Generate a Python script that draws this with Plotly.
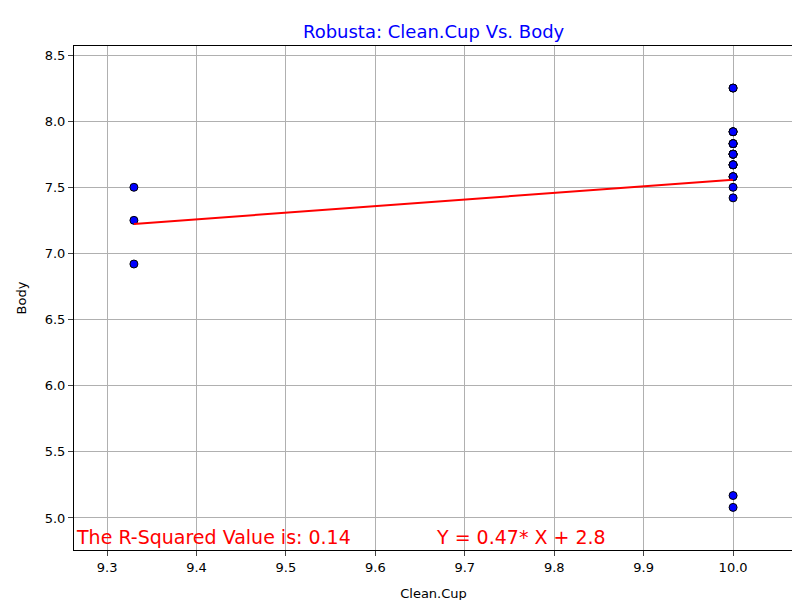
import numpy as np
import plotly.graph_objects as go

# Datos (Robusta)
clean_cup = [9.33, 9.33, 9.33] + [10.0] * 25
body = [7.5, 7.25, 6.92,
        8.25, 7.92, 7.83, 7.75, 7.67, 7.58, 7.5, 7.42, 5.17, 5.08,
        7.83, 7.83, 7.83, 7.75, 7.75, 7.75, 7.75, 7.67, 7.67, 7.67,
        7.92, 7.92, 7.58, 7.58, 8.25]

x = np.array(clean_cup)
y = np.array(body)
slope, intercept = np.polyfit(x, y, 1)
line_y = slope * x + intercept

fig = go.Figure()
fig.add_trace(go.Scatter(x=clean_cup, y=body, mode='markers',
                         marker=dict(color='blue', size=8, line=dict(color='black', width=1))))
fig.add_trace(go.Scatter(x=clean_cup, y=line_y, mode='lines', line=dict(color='red', width=2)))

fig.add_annotation(x=9.263, y=4.86, text='The R-Squared Value is: 0.14', showarrow=False,
                   xanchor='left', font=dict(color='red', size=19))
fig.add_annotation(x=9.665, y=4.86, text='Y = 0.47* X + 2.8', showarrow=False,
                   xanchor='left', font=dict(color='red', size=19))

axis = dict(showline=True, linecolor='black', mirror=True, ticks='outside',
            showgrid=True, gridcolor='#b0b0b0', zeroline=False, automargin=False,
            tickfont=dict(size=13, color='black'))
fig.update_xaxes(axis, range=[9.263, 10.067], dtick=0.1, tickformat='.1f',
                 title=dict(text='Clean.Cup', font=dict(size=13, color='black')))
fig.update_yaxes(axis, range=[4.758, 8.568], dtick=0.5, tickformat='.1f',
                 title=dict(text='Body', font=dict(size=13, color='black')))
fig.update_layout(width=800, height=600, showlegend=False,
                  plot_bgcolor='white', paper_bgcolor='white',
                  font=dict(family='DejaVu Sans'),
                  title=dict(text='Robusta: Clean.Cup Vs. Body', x=0.532, y=0.96,
                             yanchor='middle', font=dict(color='blue', size=18)),
                  margin=dict(l=66, r=15, t=38, b=58))
fig.write_html('out.html')
